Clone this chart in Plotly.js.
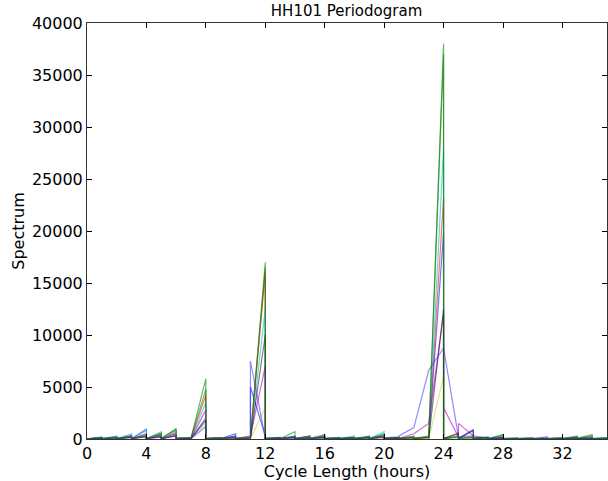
<!DOCTYPE html>
<html>
<head>
<meta charset="utf-8">
<script src="https://cdn.plot.ly/plotly-3.0.1.min.js"></script>
<style>html,body{margin:0;padding:0;background:#fff;}#chart{width:608px;height:481px;}</style>
</head>
<body>
<div id="chart"></div>
<script>
// Cycle length (hours), two readings per whole hour, ordered from long to short periods
const periods = [35,35,34,34,33,33,32,32,31,31,30,30,
                 29,29,28,28,27,27,26,26,25,25,24,24,
                 23,23,22,22,21,21,20,20,19,19,18,18,
                 17,17,16,16,15,15,14,14,13,13,12,12,
                 11,11,10,10,9,9,8,8,7,7,6,6,
                 5,5,4,4,3,3,2,2,1,1,0,0];

const spec_b1 = [40,60,30,80,50,100,40,60,30,200,40,80,
                 30,60,40,100,50,150,100,900,60,300,40,19800,
                 60,200,50,150,40,100,50,300,40,200,30,150,
                 40,100,50,200,40,300,30,150,40,100,50,300,
                 5000,100,40,500,30,100,40,2000,50,100,40,600,
                 50,400,40,950,30,350,30,200,20,150,20,40];
const spec_g1 = [60,80,50,400,80,300,40,60,30,50,40,60,
                 30,80,40,420,30,100,40,150,60,200,30,38000,
                 120,150,60,200,40,120,60,500,40,300,50,150,
                 40,100,60,300,40,200,50,250,40,120,60,17000,
                 80,120,50,200,40,100,60,5800,100,150,80,900,
                 60,600,50,400,40,250,30,200,30,150,20,60];
const spec_r1 = [50,70,40,100,60,150,40,80,30,60,50,100,
                 40,60,30,150,50,120,40,200,100,600,40,23200,
                 80,300,60,250,50,150,40,300,60,200,40,150,
                 50,120,40,400,60,300,50,200,40,150,50,16000,
                 100,200,40,150,60,120,50,4200,80,120,60,500,
                 50,400,40,300,50,200,40,150,30,100,20,50];
const spec_c1 = [60,100,50,200,40,120,60,150,40,80,50,120,
                 40,100,60,400,40,200,50,150,80,300,50,28000,
                 60,200,80,300,40,150,60,700,50,200,40,300,
                 60,150,50,400,40,200,60,300,40,150,60,12500,
                 80,150,60,300,40,150,50,3500,60,100,80,800,
                 60,700,50,800,40,500,40,300,30,200,20,60];
const spec_m1 = [30,50,40,80,30,60,40,100,30,50,40,60,
                 30,50,40,80,30,60,100,300,1500,200,3000,12000,
                 1500,1500,500,500,60,100,40,200,50,150,40,100,
                 30,80,40,150,30,100,40,150,30,80,40,7000,
                 300,300,40,300,30,80,40,2800,60,100,40,400,
                 30,300,40,500,30,250,30,150,20,100,20,40];
const spec_y1 = [30,50,40,60,30,50,40,60,30,50,40,60,
                 30,50,60,300,30,60,40,80,60,200,50,6000,
                 40,100,30,150,40,80,30,200,40,100,30,80,
                 40,60,30,100,40,80,30,100,40,60,30,3000,
                 40,100,30,80,40,60,30,1500,40,60,30,700,
                 40,500,30,300,40,200,30,150,20,100,20,40];
const spec_k1 = [30,60,40,80,30,60,40,50,30,40,40,60,
                 30,50,40,100,30,150,60,800,40,500,30,12500,
                 40,150,30,100,40,80,30,150,40,100,30,80,
                 40,60,30,150,40,100,30,200,40,80,30,10000,
                 40,100,30,100,40,60,30,1800,40,60,30,300,
                 40,200,30,200,40,150,30,100,20,80,20,40];
const spec_b2 = [40,60,30,50,40,60,30,50,40,60,30,50,
                 40,60,30,80,40,100,300,300,200,200,8750,8750,
                 6600,6600,1100,1100,300,200,100,200,40,100,30,80,
                 40,60,30,100,40,80,30,100,40,60,50,100,
                 7500,60,40,200,30,60,40,1200,30,60,40,300,
                 30,200,40,250,30,150,20,100,20,80,20,40];
const spec_g2 = [40,60,50,300,40,200,30,60,40,50,30,60,
                 40,60,50,300,40,80,50,120,40,150,30,37000,
                 100,150,50,150,40,100,50,400,40,200,30,100,
                 40,80,50,250,40,150,60,700,40,100,50,16500,
                 60,100,40,150,30,80,50,4800,60,100,50,1000,
                 40,500,30,300,40,200,30,150,20,120,20,50];

const seriesValues = [spec_b1, spec_g1, spec_r1, spec_c1, spec_m1, spec_y1, spec_k1, spec_b2, spec_g2];
const seriesColors = ['rgba(0,0,255,0.55)','rgba(0,128,0,0.6)','rgba(255,0,0,0.55)',
                      'rgba(0,191,191,0.6)','rgba(191,0,191,0.6)','rgba(191,191,0,0.45)',
                      'rgba(0,0,0,0.5)','rgba(60,40,255,0.55)','rgba(0,128,0,0.55)'];
const xTicks = [0,4,8,12,16,20,24,28,32];
const yTicks = [0,5000,10000,15000,20000,25000,30000,35000,40000];

const traces = seriesValues.map((vals, i) => ({
  type: 'scatter', mode: 'lines', x: periods, y: vals,
  line: {color: seriesColors[i], width: 1.2}, hoverinfo: 'skip', showlegend: false
}));

const font = {family: 'DejaVu Sans, sans-serif', size: 16, color: '#000'};
const layout = {
  width: 608, height: 481,
  margin: {l: 87, r: 1, t: 23, b: 42, pad: 0},
  paper_bgcolor: '#fff', plot_bgcolor: '#fff',
  font: font,
  title: {text: 'HH101 Periodogram', font: {family: font.family, size: 15, color: '#000'}, x: 0.57, xanchor: 'center', y: 0.978, yanchor: 'middle'},
  xaxis: {
    range: [0, 35], tickvals: xTicks, ticktext: xTicks.map(String),
    ticks: 'inside', ticklen: 5, tickcolor: '#000', tickwidth: 1,
    showline: true, linecolor: '#333', linewidth: 1, mirror: 'allticks',
    showgrid: false, zeroline: false, tickfont: font,
    title: {text: 'Cycle Length (hours)', font: font, standoff: 1}
  },
  yaxis: {
    range: [0, 40000], tickvals: yTicks, ticktext: yTicks.map(String),
    ticks: 'inside', ticklen: 5, tickcolor: '#000', tickwidth: 1,
    showline: true, linecolor: '#333', linewidth: 1, mirror: 'allticks',
    showgrid: false, zeroline: false, tickfont: font,
    title: {text: 'Spectrum', font: font, standoff: 3}
  }
};
Plotly.newPlot('chart', traces, layout, {displayModeBar: false, staticPlot: true});
</script>
</body>
</html>
